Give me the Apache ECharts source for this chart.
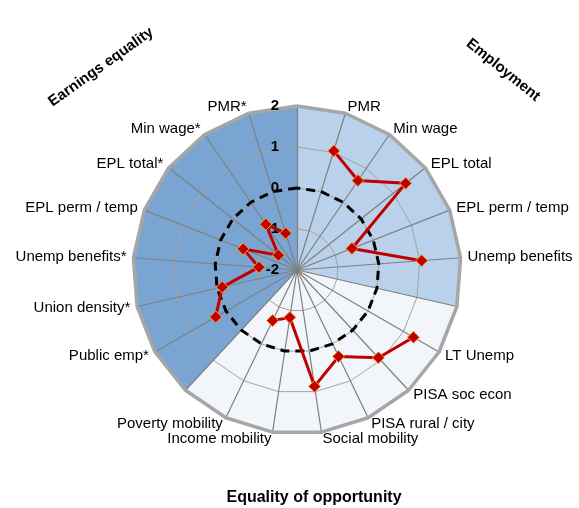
<!DOCTYPE html>
<html>
<head>
<meta charset="utf-8">
<script src="https://cdn.jsdelivr.net/npm/echarts@6/dist/echarts.min.js"></script>
<style>
  html, body { margin: 0; padding: 0; background: #fff; }
  #chart { width: 579px; height: 508px; }
</style>
</head>
<body>
<div id="chart"></div>
<script>
// spokes, counter-clockwise from the top; '' = empty spoke between the groups
const indicators = ['', 'PMR*', 'Min wage*', 'EPL total*', 'EPL perm / temp', 'Unemp benefits*',
  'Union density*', 'Public emp*', '', 'Poverty mobility', 'Income mobility', 'Social mobility',
  'PISA rural / city', 'PISA soc econ', 'LT Unemp', '', 'Unemp benefits', 'EPL perm / temp',
  'EPL total', 'Min wage', 'PMR'];
// standardised scores ('-' = no value, line is broken there)
const scores = ['-', -1.06, -0.65, -1.42, -0.59, -1.07, -0.13, 0.29, '-', -0.63, -0.83, 0.87,
  0.34, 0.92, 1.28, '-', 1.05, -0.56, 1.39, 0.64, 1.04];
const ticks = [-2, -1, 0, 1, 2];
const reference = 0; // dashed ring
// sector backgrounds: first and last spoke of each group
const groupNames = ['Earnings equality', 'Equality of opportunity', 'Employment'];
const groupFrom = [0, 8, 15];
const groupTo = [8, 15, 21];

const axisMin = ticks[0];
const axisMax = ticks[ticks.length - 1];
const n = indicators.length;
const font = 'Liberation Sans, Arial, sans-serif';

function band(from, to) {
  return indicators.map(function (_, i) {
    return (i >= from && i <= to) || (to === n && i === 0) ? axisMax : axisMin;
  });
}

const bandColors = ['#7aa5d3', '#f2f6fb', '#b9d1ea'];

let getchart = echarts.init(document.getElementById('chart'));
var option = {
  animation: false,
  backgroundColor: '#fff',
  radar: {
    center: [297, 270],
    radius: 164,
    startAngle: 90,
    shape: 'polygon',
    splitNumber: ticks.length - 1,
    z: 3,
    indicator: indicators.map(function (name) {
      return { name: name, min: axisMin, max: axisMax };
    }),
    axisName: { color: '#000', fontSize: 15, fontFamily: font },
    axisNameGap: 7,
    axisLine: { lineStyle: { color: '#7f7f7f', width: 1.2 } },
    splitLine: { lineStyle: { color: '#a3a3a3', width: 1 } },
    splitArea: { show: false },
    axisTick: { show: false },
    axisLabel: { show: false }
  },
  polar: {
    center: [297, 270],
    radius: 164
  },
  angleAxis: {
    type: 'category',
    data: indicators.map(function (_, i) { return i; }),
    boundaryGap: false,
    startAngle: 90,
    clockwise: false,
    axisLine: { show: false },
    axisTick: { show: false },
    axisLabel: { show: false },
    splitLine: { show: false }
  },
  radiusAxis: {
    min: axisMin,
    max: axisMax,
    interval: 1,
    z: 4,
    axisLine: { show: false },
    axisTick: { show: false },
    splitLine: { show: false },
    axisLabel: { color: '#000', fontSize: 15, fontWeight: 'bold', fontFamily: font, margin: 18 }
  },
  graphic: [
    { type: 'text', x: 101, y: 67, rotation: 0.62,
      style: { text: groupNames[0], font: 'bold 15px ' + font, fill: '#000', align: 'center', verticalAlign: 'middle' } },
    { type: 'text', x: 503, y: 70, rotation: -0.68,
      style: { text: groupNames[2], font: 'bold 15px ' + font, fill: '#000', align: 'center', verticalAlign: 'middle' } },
    { type: 'text', x: 314, y: 498,
      style: { text: groupNames[1], font: 'bold 16px ' + font, fill: '#000', align: 'center', verticalAlign: 'middle' } }
  ],
  series: [
    {
      type: 'radar',
      z: 1,
      silent: true,
      symbol: 'none',
      lineStyle: { width: 0 },
      data: groupNames.map(function (g, k) {
        return {
          name: g,
          value: band(groupFrom[k], groupTo[k]),
          areaStyle: { color: bandColors[k], opacity: 1 }
        };
      })
    },
    {
      type: 'radar',
      z: 4,
      silent: true,
      symbol: 'none',
      data: [
        { value: indicators.map(function () { return axisMax; }),
          lineStyle: { color: '#a6a6a6', width: 3.5 } },
        { value: indicators.map(function () { return reference; }),
          lineStyle: { color: '#000', width: 3, type: [9, 6] } }
      ]
    },
    {
      type: 'line',
      coordinateSystem: 'polar',
      z: 6,
      data: scores,
      connectNulls: false,
      symbol: 'diamond',
      symbolSize: 12,
      lineStyle: { color: '#c00000', width: 3 },
      itemStyle: { color: '#c00000', borderColor: '#f7a02a', borderWidth: 1 }
    }
  ]
};

getchart.setOption(option);
</script>
</body>
</html>
